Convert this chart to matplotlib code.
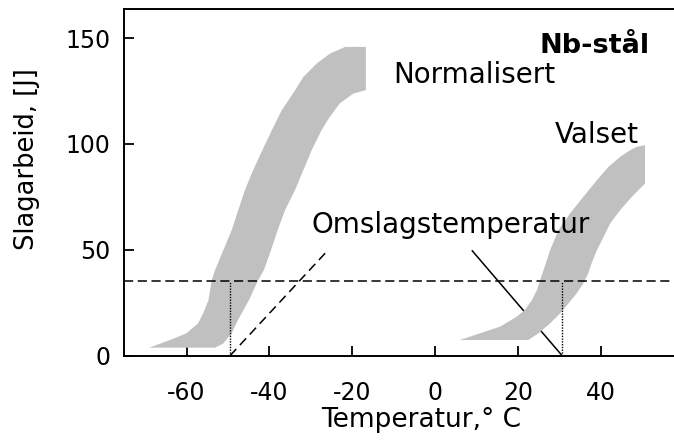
import numpy as np
import matplotlib
matplotlib.use("Agg")
import matplotlib.pyplot as plt

plt.rcParams['font.family'] = ['DejaVu Sans']
plt.rcParams['axes.unicode_minus'] = False

# Normalisert band: upper (left) edge, bottom -> top
norm_up_x = [-69, -64, -60, -57.2, -56.0, -54.7, -53.9, -53.1, -51.1, -49.1, -47.5,
             -45.9, -43.9, -41.7, -39.4, -37.0, -33.8, -31.8, -28.6, -25.4, -21.7, -16.7]
norm_up_y = [3.8, 7.4, 10.6, 15.3, 20.0, 26.3, 35.8, 40.5, 49.9, 59.3, 68.8,
             78.2, 87.7, 97.0, 106.5, 115.9, 125.3, 131.6, 137.9, 142.6, 145.8, 145.8]
# Normalisert band: lower (right) edge, top -> bottom
norm_lo_x = [-16.7, -19.7, -23.0, -25.4, -27.4, -29.8, -31.8, -33.8, -36.2, -38.0,
             -39.6, -41.3, -42.7, -44.9, -47.6, -49.1, -51.1, -53.1, -69]
norm_lo_y = [125.4, 123.8, 119.1, 112.8, 106.5, 97.0, 87.6, 78.2, 68.8, 59.3,
             49.9, 40.5, 35.7, 26.3, 16.8, 10.6, 5.8, 3.8, 3.8]

# Valset band
vals_up_x = [6.0, 10.9, 15.7, 19.7, 21.7, 23.4, 24.6, 25.4, 26.2, 27.0, 27.8,
             29.8, 32.6, 35.8, 39.1, 41.9, 44.7, 47.1, 48.7, 50.7]
vals_up_y = [7.4, 10.6, 13.7, 18.4, 21.6, 26.3, 31.0, 35.7, 40.4, 45.1, 49.9,
             59.3, 67.2, 75.0, 82.9, 89.2, 93.9, 97.0, 98.6, 99.4]
vals_lo_x = [50.7, 50.7, 49.1, 47.5, 44.7, 42.3, 40.7, 39.1, 37.8, 37.0, 35.8,
             34.2, 32.2, 30.2, 27.8, 25.0, 22.5, 6.0]
vals_lo_y = [99.4, 81.3, 78.2, 75.0, 68.7, 62.5, 56.1, 49.9, 43.6, 38.9, 34.2,
             29.4, 24.7, 20.0, 15.3, 10.6, 7.4, 7.4]

# transition criterion and the two transition temperatures
crit_energy = 35.5
t_norm = -49.5
t_vals = 30.7

# leader lines from the label down to the transition temperatures
lead_norm_x = [t_norm, -26]
lead_norm_y = [0, 49.5]
lead_vals_x = [t_vals, 9]
lead_vals_y = [0, 49.5]

xticks = [-60, -40, -20, 0, 20, 40]
yticks = [0, 50, 100, 150]

fig = plt.figure(figsize=(6.74, 4.46), dpi=100)
ax = fig.add_axes([124 / 674, 1 - 355.7 / 446, 1 - 124 / 674, (355.7 - 9) / 446])

band = '#c0c0c0'
ax.fill(norm_up_x + norm_lo_x, norm_up_y + norm_lo_y, color=band, lw=0, zorder=3)
ax.fill(vals_up_x + vals_lo_x, vals_up_y + vals_lo_y, color=band, lw=0, zorder=3)

ax.plot(lead_vals_x, lead_vals_y, color='black', lw=1.1, zorder=2)
ax.plot(lead_norm_x, lead_norm_y, color='black', lw=1.1, ls=(0, (6, 3.5)), zorder=4)
ax.axhline(crit_energy, color='black', lw=1.1, ls=(0, (6, 3)), zorder=4)
ax.vlines([t_norm, t_vals], 0, crit_energy, color='black', lw=1.0,
          linestyles=(0, (1, 1)), zorder=4)

ax.text(38.4, 143, 'Nb-stål', fontsize=19.5, fontweight='bold', ha='center', va='baseline')
ax.text(9.4, 128.6, 'Normalisert', fontsize=20, ha='center', va='baseline')
ax.text(39.1, 100.3, 'Valset', fontsize=20, ha='center', va='baseline')
ax.text(3.7, 57.8, 'Omslagstemperatur', fontsize=20, ha='center', va='baseline')

ax.set_xlim(-75.1, 57.7)
ax.set_ylim(0, 163.7)
ax.set_xticks(xticks)
ax.set_yticks(yticks)
ax.tick_params(direction='in', length=7, width=1.3, labelsize=17)
ax.tick_params(axis='x', pad=18)
ax.tick_params(axis='y', pad=10)
ax.spines['right'].set_visible(False)
for s in ['left', 'bottom', 'top']:
    ax.spines[s].set_linewidth(1.4)

fig.text(27.5 / 674, 1 - 159 / 446, 'Slagarbeid, [J]', rotation=90,
         ha='center', va='center', fontsize=18.5)
fig.text(421 / 674, 1 - 427 / 446, 'Temperatur,° C', ha='center', va='baseline',
         fontsize=19)

fig.savefig('out.png', dpi=100)
